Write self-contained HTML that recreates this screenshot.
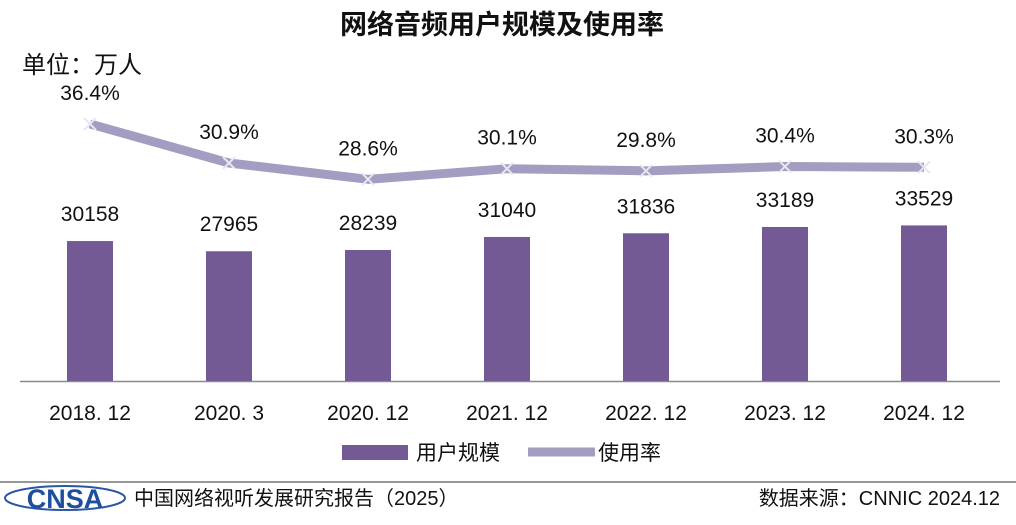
<!DOCTYPE html>
<html><head><meta charset="utf-8"><style>
body{margin:0;background:#fff;}
svg text{font-family:"Liberation Sans","Noto Sans CJK SC",sans-serif;}
</style></head><body>
<svg width="1016" height="520" viewBox="0 0 1016 520" xmlns="http://www.w3.org/2000/svg">
<text x="502" y="34" text-anchor="middle" font-size="27" font-weight="bold" fill="#111">网络音频用户规模及使用率</text>
<text x="22" y="73" font-size="24" fill="#111">单位：万人</text>
<line x1="20" y1="381.5" x2="1000" y2="381.5" stroke="#8a8a8a" stroke-width="1.5"/>
<g id="ticks"></g>
<g id="bars"></g>
<g id="line"></g>
<g id="labels"></g>
<rect x="342" y="445" width="66" height="15" fill="#735A94"/>
<text x="416" y="460" font-size="21" fill="#111">用户规模</text>
<line x1="528" y1="452" x2="595" y2="452" stroke="#A49DC2" stroke-width="9"/>
<text x="598" y="460" font-size="21" fill="#111">使用率</text>
<line x1="0" y1="482" x2="1016" y2="482" stroke="#777" stroke-width="1.5"/>
<g>
<ellipse cx="65" cy="498" rx="60" ry="12" fill="none" stroke="#2a56a6" stroke-width="2"/>
<text x="65" y="508" text-anchor="middle" font-size="27" font-weight="bold" fill="#1d4f9e" font-family="Liberation Serif,serif">CNSA</text>
</g>
<text x="134" y="505" font-size="20" fill="#111">中国网络视听发展研究报告（2025）</text>
<text x="1000" y="505" text-anchor="end" font-size="20" fill="#111">数据来源：CNNIC  2024.12</text>
</svg>
<script>
const categories=["2018. 12","2020. 3","2020. 12","2021. 12","2022. 12","2023. 12","2024. 12"];
const users=[30158,27965,28239,31040,31836,33189,33529];
const rates=[36.4,30.9,28.6,30.1,29.8,30.4,30.3];
const NS="http://www.w3.org/2000/svg";
const base=381;
const xPos=i=>90+i*139;
const yBar=v=>base-v*0.00464;
const yRate=v=>382.4-v*7.1;
function mk(tag,attrs,parent){const e=document.createElementNS(NS,tag);for(const k in attrs)e.setAttribute(k,attrs[k]);document.getElementById(parent).appendChild(e);return e;}
categories.forEach((c,i)=>{
  const t=mk("text",{x:xPos(i),y:420,"text-anchor":"middle","font-size":21,fill:"#111"},"ticks");
  t.textContent=c;
  
  
  const y=yBar(users[i]);
  const r=mk("rect",{x:xPos(i)-23,y:y,width:46,height:base-y,fill:"#735A94"},"bars");
  
  
  const l=mk("text",{x:xPos(i),y:y-20,"text-anchor":"middle","font-size":21,fill:"#111"},"labels");
  l.textContent=users[i];
  
  
  const p=mk("text",{x:xPos(i),y:yRate(rates[i])-24,"text-anchor":"middle","font-size":21,fill:"#111"},"labels");
  p.textContent=rates[i].toFixed(1)+"%";
  
  
});
const pts=rates.map((v,i)=>xPos(i)+","+yRate(v)).join(" ");
const pl=mk("polyline",{points:pts,fill:"none",stroke:"#A49DC2","stroke-width":9,"stroke-linejoin":"round"},"line");


rates.forEach((v,i)=>{
  const m=mk("path",{d:`M${xPos(i)-6},${yRate(v)-6}L${xPos(i)+6},${yRate(v)+6}M${xPos(i)-6},${yRate(v)+6}L${xPos(i)+6},${yRate(v)-6}`,stroke:"#e8e6f0","stroke-width":2},"line");
  
  
});
</script>
</body></html>
